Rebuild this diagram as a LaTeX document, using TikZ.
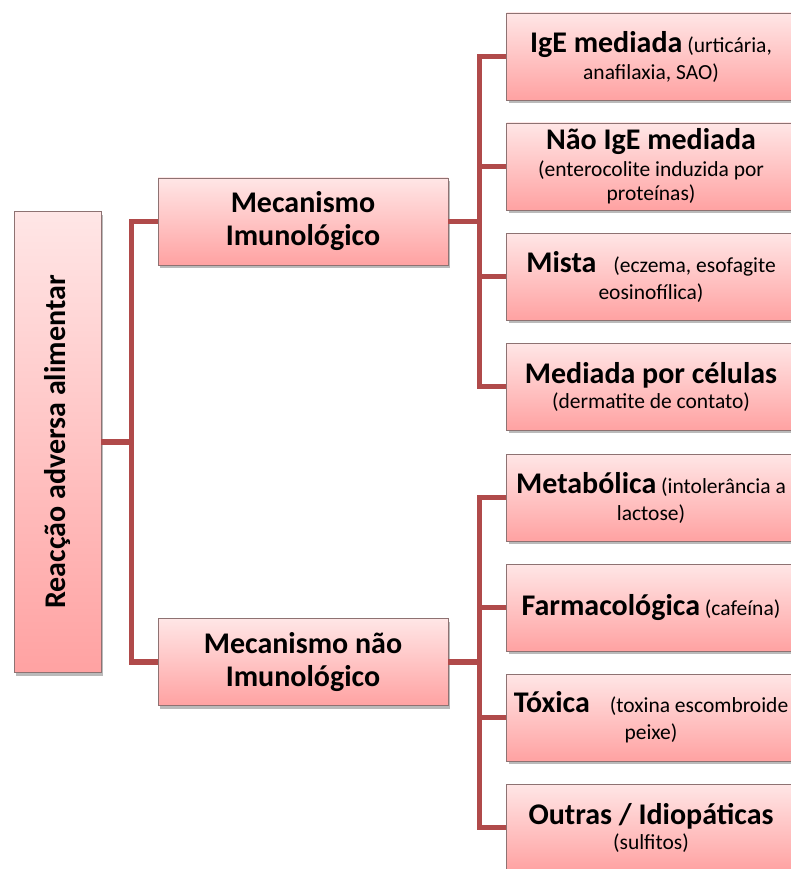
\documentclass[tikz,border=0pt]{standalone}
\usepackage{fontspec}
\setmainfont{Carlito}
\usepackage{xcolor}
\usetikzlibrary{positioning, shadows}

\definecolor{linkred}{HTML}{B04A4A}
\definecolor{boxedge}{HTML}{8E7272}
\definecolor{pinktop}{HTML}{FFE6E6}
\definecolor{pinkbot}{HTML}{FFA2A2}

\newcommand{\ttl}[1]{{\fontsize{30}{33}\selectfont\bfseries #1}}

\begin{document}
\begin{tikzpicture}[x=1pt, y=-1pt,
        box/.style={draw=boxedge, line width=0.7pt, top color=pinktop, bottom color=pinkbot,
            align=center, inner sep=2pt, minimum height=87pt,
            drop shadow={shadow xshift=2pt, shadow yshift=-3pt, opacity=0.45, fill=black!60}},
        midbox/.style={box, minimum width=290pt, font=\fontsize{30}{33}\selectfont\bfseries},
        leafbox/.style={box, minimum width=289pt, font=\fontsize{21.5}{24}\selectfont},
        link/.style={draw=linkred, line width=5.5pt}]
        \useasboundingbox (0,0) rectangle (791,869);

        % Draw the root
        \node[box, minimum width=87pt, minimum height=461pt] (root) at (57.5,442) {};
        \node[rotate=90] at (root.center) {\ttl{Reacção adversa alimentar}};

        % Draw the two mechanisms
        \node[midbox] (imuno) at (303,221.5) {Mecanismo\\Imunológico};
        \node[midbox] (naoimuno) at (303,662) {Mecanismo não\\Imunológico};

        % Draw the immunological leaves
        \node[leafbox] (ige) at (651,56.5) {\ttl{IgE mediada} (urticária,\\[3pt]anafilaxia, SAO)};
        \node[leafbox] (naoige) at (651,166.5) {\ttl{Não IgE mediada}\\[3pt](enterocolite induzida por\\proteínas)};
        \node[leafbox] (mista) at (651,276.5) {\ttl{Mista}\hspace{17pt}(eczema, esofagite\\[3pt]eosinofílica)};
        \node[leafbox] (celulas) at (651,386.5) {\ttl{Mediada por células}\\[1pt](dermatite de contato)};

        % Draw the non-immunological leaves
        \node[leafbox] (metab) at (651,497.5) {\ttl{Metabólica} (intolerância a\\[3pt]lactose)};
        \node[leafbox] (farmaco) at (651,607.5) {\ttl{Farmacológica} (cafeína)};
        \node[leafbox] (toxica) at (651,717.5) {\ttl{Tóxica}\hspace{20pt}(toxina escombroide\\[3pt]peixe)};
        \node[leafbox] (outras) at (651,827.5) {\ttl{Outras / Idiopáticas}\\[1pt](sulfitos)};

        % Draw the connectors
        \foreach \n in {imuno, naoimuno}
            \draw[link] (root.east) -- ++(30,0) |- (\n.west);
        \foreach \n in {ige, naoige, mista, celulas}
            \draw[link] (imuno.east) -- ++(31,0) |- (\n.west);
        \foreach \n in {metab, farmaco, toxica, outras}
            \draw[link] (naoimuno.east) -- ++(31,0) |- (\n.west);
    \end{tikzpicture}
\end{document}
